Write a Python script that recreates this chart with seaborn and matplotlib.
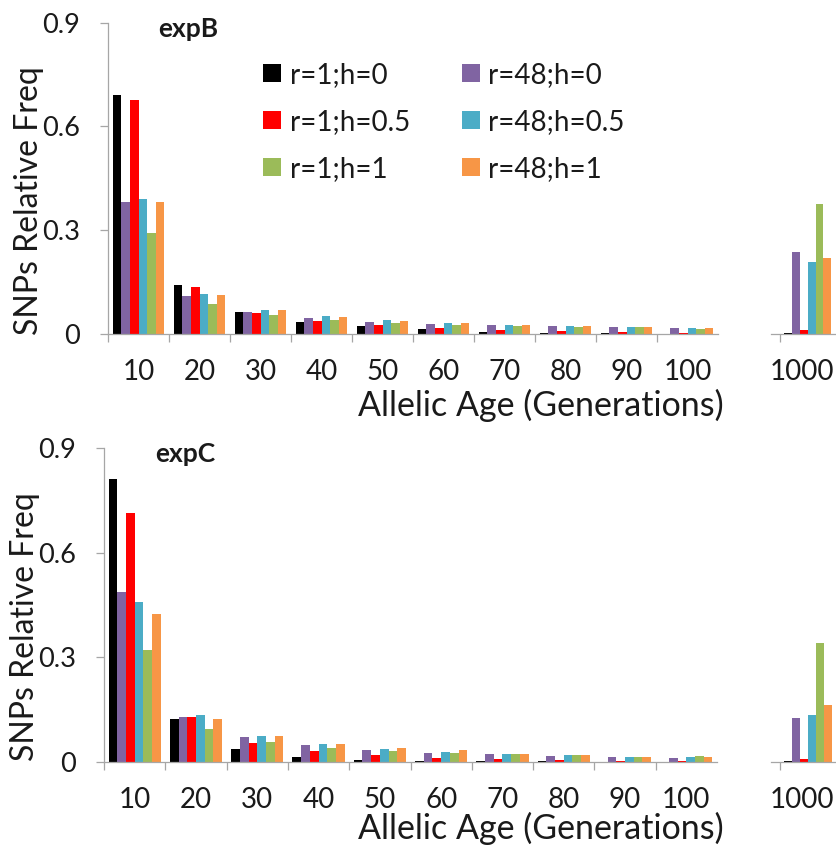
import numpy as np
import pandas as pd
import matplotlib
matplotlib.use("Agg")
import matplotlib.pyplot as plt
from matplotlib.patches import Patch
import seaborn as sns

# Allelic age categories (the last one is drawn in its own, separate axis)
ages = ['10', '20', '30', '40', '50', '60', '70', '80', '90', '100', '1000']

# Series in the order the bars appear inside each group
series_names = ['r=1;h=0', 'r=48;h=0', 'r=1;h=0.5', 'r=48;h=0.5', 'r=1;h=1', 'r=48;h=1']
series_colors = ['#000000', '#8064A2', '#FF0000', '#4BACC6', '#9BBB59', '#F79646']

# expB values
expB_r1_h0 = [0.692, 0.141, 0.064, 0.036, 0.023, 0.014, 0.007, 0.003, 0.003, 0.001, 0.004]
expB_r48_h0 = [0.383, 0.109, 0.065, 0.045, 0.036, 0.029, 0.025, 0.022, 0.019, 0.018, 0.238]
expB_r1_h05 = [0.676, 0.135, 0.062, 0.038, 0.025, 0.018, 0.011, 0.009, 0.005, 0.002, 0.012]
expB_r48_h05 = [0.390, 0.116, 0.070, 0.051, 0.040, 0.033, 0.025, 0.023, 0.019, 0.018, 0.207]
expB_r1_h1 = [0.291, 0.088, 0.056, 0.040, 0.033, 0.027, 0.023, 0.021, 0.019, 0.015, 0.377]
expB_r48_h1 = [0.383, 0.113, 0.068, 0.050, 0.038, 0.031, 0.027, 0.023, 0.019, 0.018, 0.219]

# expC values
expC_r1_h0 = [0.813, 0.124, 0.038, 0.014, 0.006, 0.002, 0.002, 0.002, 0.001, 0.001, 0.003]
expC_r48_h0 = [0.488, 0.128, 0.071, 0.049, 0.035, 0.026, 0.022, 0.017, 0.015, 0.011, 0.125]
expC_r1_h05 = [0.714, 0.130, 0.054, 0.031, 0.019, 0.012, 0.009, 0.005, 0.003, 0.002, 0.008]
expC_r48_h05 = [0.460, 0.134, 0.075, 0.053, 0.037, 0.028, 0.022, 0.019, 0.015, 0.013, 0.134]
expC_r1_h1 = [0.320, 0.095, 0.057, 0.041, 0.032, 0.026, 0.022, 0.020, 0.015, 0.017, 0.340]
expC_r48_h1 = [0.425, 0.124, 0.075, 0.053, 0.039, 0.033, 0.024, 0.020, 0.015, 0.015, 0.163]

y_ticks = [0, 0.3, 0.6, 0.9]
y_tick_labels = ['0', '0.3', '0.6', '0.9']

panels = {
    'expB': [expB_r1_h0, expB_r48_h0, expB_r1_h05, expB_r48_h05, expB_r1_h1, expB_r48_h1],
    'expC': [expC_r1_h0, expC_r48_h0, expC_r1_h05, expC_r48_h05, expC_r1_h1, expC_r48_h1],
}

# Long table for seaborn
rows = []
for panel, table in panels.items():
    for name, vals in zip(series_names, table):
        for age, v in zip(ages, vals):
            rows.append({'panel': panel, 'age': age, 'series': name, 'freq': v})
df = pd.DataFrame(rows)

sns.set_theme(style='white')
plt.rcParams['font.family'] = ['Lato', 'DejaVu Sans']

W, H = 836, 850
fig = plt.figure(figsize=(W / 100, H / 100), dpi=100)
fig.patch.set_facecolor('white')

gray = '#a6a6a6'
text_col = '#1a1a1a'


def px_axes(left, top, right, bottom):
    return fig.add_axes([left / W, 1 - bottom / H, (right - left) / W, (bottom - top) / H])


def style_axis(ax):
    for s in ['top', 'right']:
        ax.spines[s].set_visible(False)
    for s in ['left', 'bottom']:
        ax.spines[s].set_color(gray)
        ax.spines[s].set_linewidth(0.9)
    ax.set_facecolor('white')
    ax.set_xlabel('')
    ax.set_ylabel('')


def draw_panel(name, box, side_left, unit, xlabel_drop):
    left, top, right, bottom = box
    ax = px_axes(left, top, right, bottom)
    side = px_axes(side_left, top, side_left + 1.7 * unit, bottom)
    data = df[df.panel == name]
    height = bottom - top

    sns.barplot(data=data[data.age != '1000'], x='age', y='freq', hue='series',
                order=ages[:-1], hue_order=series_names, palette=series_colors,
                saturation=1, width=0.85, errorbar=None, linewidth=0,
                ax=ax, legend=False)
    sns.barplot(data=data[data.age == '1000'], x='age', y='freq', hue='series',
                order=ages[-1:], hue_order=series_names, palette=series_colors,
                saturation=1, width=0.85, errorbar=None, linewidth=0,
                ax=side, legend=False)

    for a in (ax, side):
        style_axis(a)
        a.set_ylim(0, 0.9)

    ax.set_xlim(-0.5, 9.5)
    ax.set_xticks(range(10))
    ax.set_xticklabels(ages[:-1])
    ax.set_xticks(np.arange(-0.5, 9, 1), minor=True)
    ax.tick_params(axis='x', which='major', length=0, pad=18, labelsize=20, labelcolor=text_col)
    ax.tick_params(axis='x', which='minor', bottom=True, length=6, width=0.9, color=gray)
    ax.set_yticks(y_ticks)
    ax.set_yticklabels(y_tick_labels)
    ax.tick_params(axis='y', left=True, length=6, width=0.9, color=gray, pad=14,
                   labelsize=19.5, labelcolor=text_col)

    side.set_xlim(-0.5 - 10 / unit, 1.2)
    side.spines['left'].set_visible(False)
    side.set_yticks([])
    side.set_xticks([-0.11])
    side.set_xticklabels([ages[-1]])
    side.set_xticks([-0.5], minor=True)
    side.tick_params(axis='x', which='major', length=0, pad=18, labelsize=20, labelcolor=text_col)
    side.tick_params(axis='x', which='minor', bottom=True, length=6, width=0.9, color=gray)

    ax.set_ylabel('SNPs Relative Freq', fontsize=23, color=text_col)
    ax.yaxis.set_label_coords(-0.105, 0.43)
    ax.set_xlabel('Allelic Age (Generations)', fontsize=24.5, color=text_col,
                  ha='right', va='baseline')
    ax.xaxis.set_label_coords(1.01, -xlabel_drop / height)

    ax.text(0.083, 1 - 14 / height, name, transform=ax.transAxes, ha='left', va='baseline',
            fontsize=19, fontweight='bold', color=text_col)
    return ax


top_ax = draw_panel('expB', (108, 22.7, 718, 334), 770.7, 61.0, 82)
draw_panel('expC', (104, 448.3, 717, 762), 771.0, 61.3, 77)

# Legend: column-wise r=1 series, then r=48 series
legend_order = [0, 2, 4, 1, 3, 5]
handles = [Patch(facecolor=series_colors[i], edgecolor='none', label=series_names[i])
           for i in legend_order]
top_ax.legend(handles=handles, ncol=2, loc='upper left', bbox_to_anchor=(0.254, 0.874),
              frameon=False, fontsize=20, handlelength=0.65, handleheight=0.65,
              handletextpad=0.32, columnspacing=1.85, labelspacing=0.75,
              borderpad=0, borderaxespad=0, labelcolor=text_col)

plt.savefig('out.png', dpi=100)
